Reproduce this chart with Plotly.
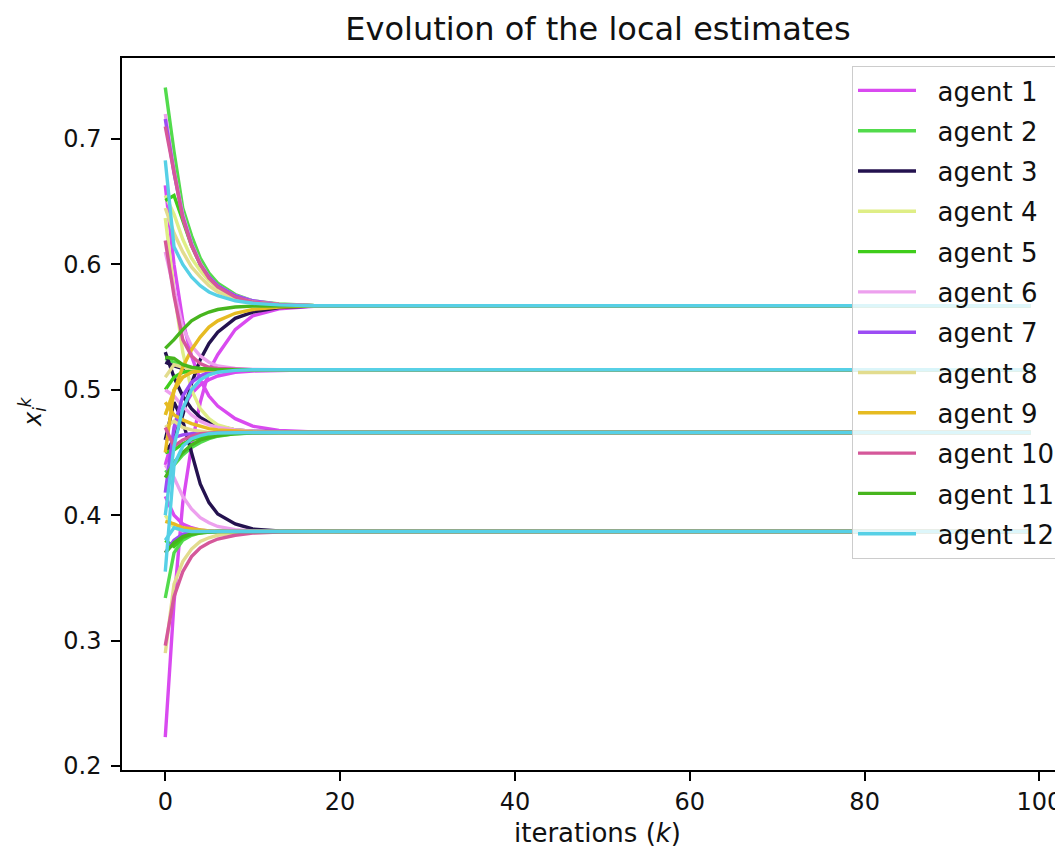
import plotly.graph_objects as go

K = [0, 1, 2, 3, 4, 5, 6, 8, 10, 13, 17, 22, 99]

AGENTS = ["agent 1", "agent 2", "agent 3", "agent 4", "agent 5", "agent 6",
          "agent 7", "agent 8", "agent 9", "agent 10", "agent 11", "agent 12"]

COLORS = ["#d94af0", "#52db4c", "#24124f", "#dfee86", "#3fcd1b", "#eda0ee",
          "#9c4cf4", "#e2dc8e", "#e6bb22", "#d5589a", "#47b51e", "#56d0e6"]

AGENT_1 = [
    [0.223, 0.330, 0.410, 0.455, 0.490, 0.515, 0.528, 0.548, 0.559, 0.5645, 0.5665, 0.567, 0.567],
    [0.440, 0.465, 0.485, 0.497, 0.504, 0.508, 0.511, 0.514, 0.515, 0.5157, 0.516, 0.516, 0.516],
    [0.663, 0.600, 0.555, 0.527, 0.508, 0.495, 0.487, 0.477, 0.471, 0.4675, 0.4664, 0.466, 0.466],
    [0.415, 0.400, 0.393, 0.390, 0.388, 0.3875, 0.387, 0.387, 0.387, 0.387, 0.387, 0.387, 0.387],
]
AGENT_2 = [
    [0.741, 0.690, 0.645, 0.623, 0.605, 0.593, 0.585, 0.576, 0.571, 0.5685, 0.5672, 0.567, 0.567],
    [0.525, 0.522, 0.519, 0.5175, 0.5168, 0.5163, 0.516, 0.516, 0.516, 0.516, 0.516, 0.516, 0.516],
    [0.434, 0.440, 0.448, 0.454, 0.458, 0.461, 0.463, 0.465, 0.4655, 0.4659, 0.466, 0.466, 0.466],
    [0.334, 0.370, 0.380, 0.384, 0.386, 0.3865, 0.387, 0.387, 0.387, 0.387, 0.387, 0.387, 0.387],
]
AGENT_3 = [
    [0.450, 0.460, 0.480, 0.505, 0.524, 0.537, 0.546, 0.557, 0.562, 0.5655, 0.5668, 0.567, 0.567],
    [0.522, 0.519, 0.517, 0.5165, 0.516, 0.516, 0.516, 0.516, 0.516, 0.516, 0.516, 0.516, 0.516],
    [0.530, 0.510, 0.495, 0.485, 0.478, 0.474, 0.471, 0.468, 0.467, 0.4663, 0.466, 0.466, 0.466],
    [0.460, 0.490, 0.475, 0.450, 0.425, 0.410, 0.401, 0.393, 0.389, 0.3875, 0.387, 0.387, 0.387],
]
AGENT_4 = [
    [0.655, 0.640, 0.620, 0.605, 0.595, 0.587, 0.581, 0.574, 0.5705, 0.568, 0.567, 0.567, 0.567],
    [0.480, 0.500, 0.510, 0.514, 0.515, 0.516, 0.516, 0.516, 0.516, 0.516, 0.516, 0.516, 0.516],
    [0.637, 0.580, 0.530, 0.500, 0.485, 0.477, 0.472, 0.468, 0.4668, 0.466, 0.466, 0.466, 0.466],
    [0.400, 0.390, 0.388, 0.387, 0.387, 0.387, 0.387, 0.387, 0.387, 0.387, 0.387, 0.387, 0.387],
]
AGENT_5 = [
    [0.651, 0.655, 0.635, 0.615, 0.600, 0.590, 0.583, 0.575, 0.5705, 0.568, 0.567, 0.567, 0.567],
    [0.500, 0.510, 0.514, 0.515, 0.516, 0.516, 0.516, 0.516, 0.516, 0.516, 0.516, 0.516, 0.516],
    [0.450, 0.452, 0.457, 0.460, 0.462, 0.4635, 0.4645, 0.4655, 0.466, 0.466, 0.466, 0.466, 0.466],
    [0.380, 0.375, 0.382, 0.385, 0.386, 0.387, 0.387, 0.387, 0.387, 0.387, 0.387, 0.387, 0.387],
]
AGENT_6 = [
    [0.720, 0.675, 0.640, 0.617, 0.601, 0.590, 0.583, 0.575, 0.571, 0.568, 0.567, 0.567, 0.567],
    [0.610, 0.580, 0.550, 0.535, 0.527, 0.522, 0.519, 0.517, 0.5163, 0.516, 0.516, 0.516, 0.516],
    [0.500, 0.495, 0.487, 0.480, 0.475, 0.472, 0.470, 0.468, 0.467, 0.4663, 0.466, 0.466, 0.466],
    [0.440, 0.430, 0.415, 0.405, 0.398, 0.394, 0.391, 0.3885, 0.3875, 0.387, 0.387, 0.387, 0.387],
]
AGENT_7 = [
    [0.716, 0.673, 0.638, 0.616, 0.600, 0.590, 0.583, 0.575, 0.571, 0.568, 0.567, 0.567, 0.567],
    [0.418, 0.470, 0.495, 0.506, 0.511, 0.514, 0.515, 0.516, 0.516, 0.516, 0.516, 0.516, 0.516],
    [0.460, 0.462, 0.464, 0.465, 0.4655, 0.466, 0.466, 0.466, 0.466, 0.466, 0.466, 0.466, 0.466],
    [0.370, 0.380, 0.385, 0.386, 0.387, 0.387, 0.387, 0.387, 0.387, 0.387, 0.387, 0.387, 0.387],
]
AGENT_8 = [
    [0.645, 0.625, 0.610, 0.598, 0.590, 0.583, 0.578, 0.573, 0.570, 0.568, 0.567, 0.567, 0.567],
    [0.510, 0.520, 0.518, 0.517, 0.516, 0.516, 0.516, 0.516, 0.516, 0.516, 0.516, 0.516, 0.516],
    [0.470, 0.475, 0.470, 0.468, 0.467, 0.466, 0.466, 0.466, 0.466, 0.466, 0.466, 0.466, 0.466],
    [0.290, 0.345, 0.363, 0.373, 0.379, 0.382, 0.384, 0.386, 0.3866, 0.387, 0.387, 0.387, 0.387],
]
AGENT_9 = [
    [0.480, 0.500, 0.518, 0.532, 0.542, 0.550, 0.555, 0.561, 0.564, 0.566, 0.567, 0.567, 0.567],
    [0.450, 0.500, 0.510, 0.514, 0.515, 0.516, 0.516, 0.516, 0.516, 0.516, 0.516, 0.516, 0.516],
    [0.490, 0.480, 0.476, 0.473, 0.471, 0.469, 0.468, 0.467, 0.4665, 0.466, 0.466, 0.466, 0.466],
    [0.395, 0.393, 0.390, 0.389, 0.388, 0.3875, 0.387, 0.387, 0.387, 0.387, 0.387, 0.387, 0.387],
]
AGENT_10 = [
    [0.710, 0.672, 0.637, 0.615, 0.600, 0.589, 0.582, 0.574, 0.570, 0.568, 0.567, 0.567, 0.567],
    [0.619, 0.575, 0.540, 0.527, 0.521, 0.518, 0.517, 0.5163, 0.516, 0.516, 0.516, 0.516, 0.516],
    [0.470, 0.455, 0.460, 0.463, 0.465, 0.4655, 0.466, 0.466, 0.466, 0.466, 0.466, 0.466, 0.466],
    [0.296, 0.335, 0.355, 0.367, 0.374, 0.378, 0.381, 0.384, 0.3857, 0.3866, 0.387, 0.387, 0.387],
]
AGENT_11 = [
    [0.533, 0.540, 0.548, 0.555, 0.559, 0.562, 0.564, 0.566, 0.5667, 0.567, 0.567, 0.567, 0.567],
    [0.526, 0.525, 0.520, 0.518, 0.517, 0.5165, 0.516, 0.516, 0.516, 0.516, 0.516, 0.516, 0.516],
    [0.430, 0.442, 0.450, 0.456, 0.460, 0.462, 0.4635, 0.465, 0.4657, 0.466, 0.466, 0.466, 0.466],
    [0.370, 0.378, 0.383, 0.385, 0.386, 0.3868, 0.387, 0.387, 0.387, 0.387, 0.387, 0.387, 0.387],
]
AGENT_12 = [
    [0.683, 0.614, 0.600, 0.590, 0.583, 0.578, 0.575, 0.571, 0.569, 0.5677, 0.567, 0.567, 0.567],
    [0.400, 0.455, 0.485, 0.500, 0.508, 0.512, 0.514, 0.5155, 0.516, 0.516, 0.516, 0.516, 0.516],
    [0.355, 0.440, 0.455, 0.461, 0.4635, 0.465, 0.4655, 0.466, 0.466, 0.466, 0.466, 0.466, 0.466],
    [0.380, 0.390, 0.388, 0.387, 0.387, 0.387, 0.387, 0.387, 0.387, 0.387, 0.387, 0.387, 0.387],
]

ALL = [AGENT_1, AGENT_2, AGENT_3, AGENT_4, AGENT_5, AGENT_6,
       AGENT_7, AGENT_8, AGENT_9, AGENT_10, AGENT_11, AGENT_12]

Y_TICKS = [0.2, 0.3, 0.4, 0.5, 0.6, 0.7]
X_TICKS = [0, 20, 40, 60, 80, 100]

FONT = "DejaVu Sans"
TXT = "#111111"
NBSP = "\u00a0"

# the page adds an 8px body margin; the figure runs a little past the window's right edge,
# as the reference's axes do
W, H = 1080, 843
L, T = 114, 50
PLOT_RIGHT = 1066           # x = 103.95 in figure pixels
PLOT_BOTTOM = 762
PW, PH = PLOT_RIGHT - L, PLOT_BOTTOM - T

fig = go.Figure()
for name, color, comps in zip(AGENTS, COLORS, ALL):
    for j, comp in enumerate(comps):
        fig.add_trace(go.Scatter(
            x=K, y=comp, mode="lines", name=NBSP * 2 + name, legendgroup=name,
            showlegend=(j == 0), line=dict(color=color, width=3.4),
        ))

fig.update_layout(
    width=W, height=H,
    margin=dict(l=L, r=W - PLOT_RIGHT, t=T, b=H - PLOT_BOTTOM, autoexpand=False),
    plot_bgcolor="white", paper_bgcolor="white",
    font=dict(family=FONT, size=23, color=TXT),
    title=dict(text="Evolution of the local estimates", x=0.5, xref="paper",
               xanchor="center", y=1 - 21 / H, yref="container", yanchor="middle",
               font=dict(family=FONT, size=32, color=TXT)),
    showlegend=True,
    legend=dict(x=(1052 - L) / PW, xanchor="right", y=(PLOT_BOTTOM - 58) / PH, yanchor="top",
                bgcolor="rgba(255,255,255,0.8)", bordercolor="#cccccc", borderwidth=1,
                font=dict(family=FONT, size=26, color=TXT),
                tracegroupgap=3.5, itemwidth=58),
)
fig.update_xaxes(range=[-4.95, 103.95], tickvals=X_TICKS, ticks="outside", ticklen=9,
                 tickwidth=1.5, tickcolor="black", showline=True, linecolor="black",
                 linewidth=1.5, mirror=True, showgrid=False, zeroline=False,
                 tickfont=dict(family=FONT, size=24, color=TXT))
fig.update_yaxes(range=[0.1968, 0.7646], tickvals=Y_TICKS, tickformat=".1f", ticks="outside",
                 ticklen=9, tickwidth=1.5, tickcolor="black", showline=True, linecolor="black",
                 linewidth=1.5, mirror=True, showgrid=False, zeroline=False,
                 ticklabelstandoff=5,
                 tickfont=dict(family=FONT, size=24, color=TXT))

fig.add_annotation(text="iterations (<i>k</i>)", xref="paper", yref="paper",
                   x=(597 - 8 - L) / PW, y=-(833 - 8 - PLOT_BOTTOM) / PH, showarrow=False,
                   xanchor="center", yanchor="middle", font=dict(family=FONT, size=26, color=TXT))
fig.add_annotation(text="<i>x</i><sub><i>i</i></sub><sup><i>k</i></sup>", xref="paper", yref="paper",
                   x=-(L - (32 - 8)) / PW, y=(PLOT_BOTTOM - (412 - 8)) / PH, showarrow=False,
                   textangle=-90, xanchor="center", yanchor="middle",
                   font=dict(family=FONT, size=24, color=TXT))

fig.write_html("out.html")
